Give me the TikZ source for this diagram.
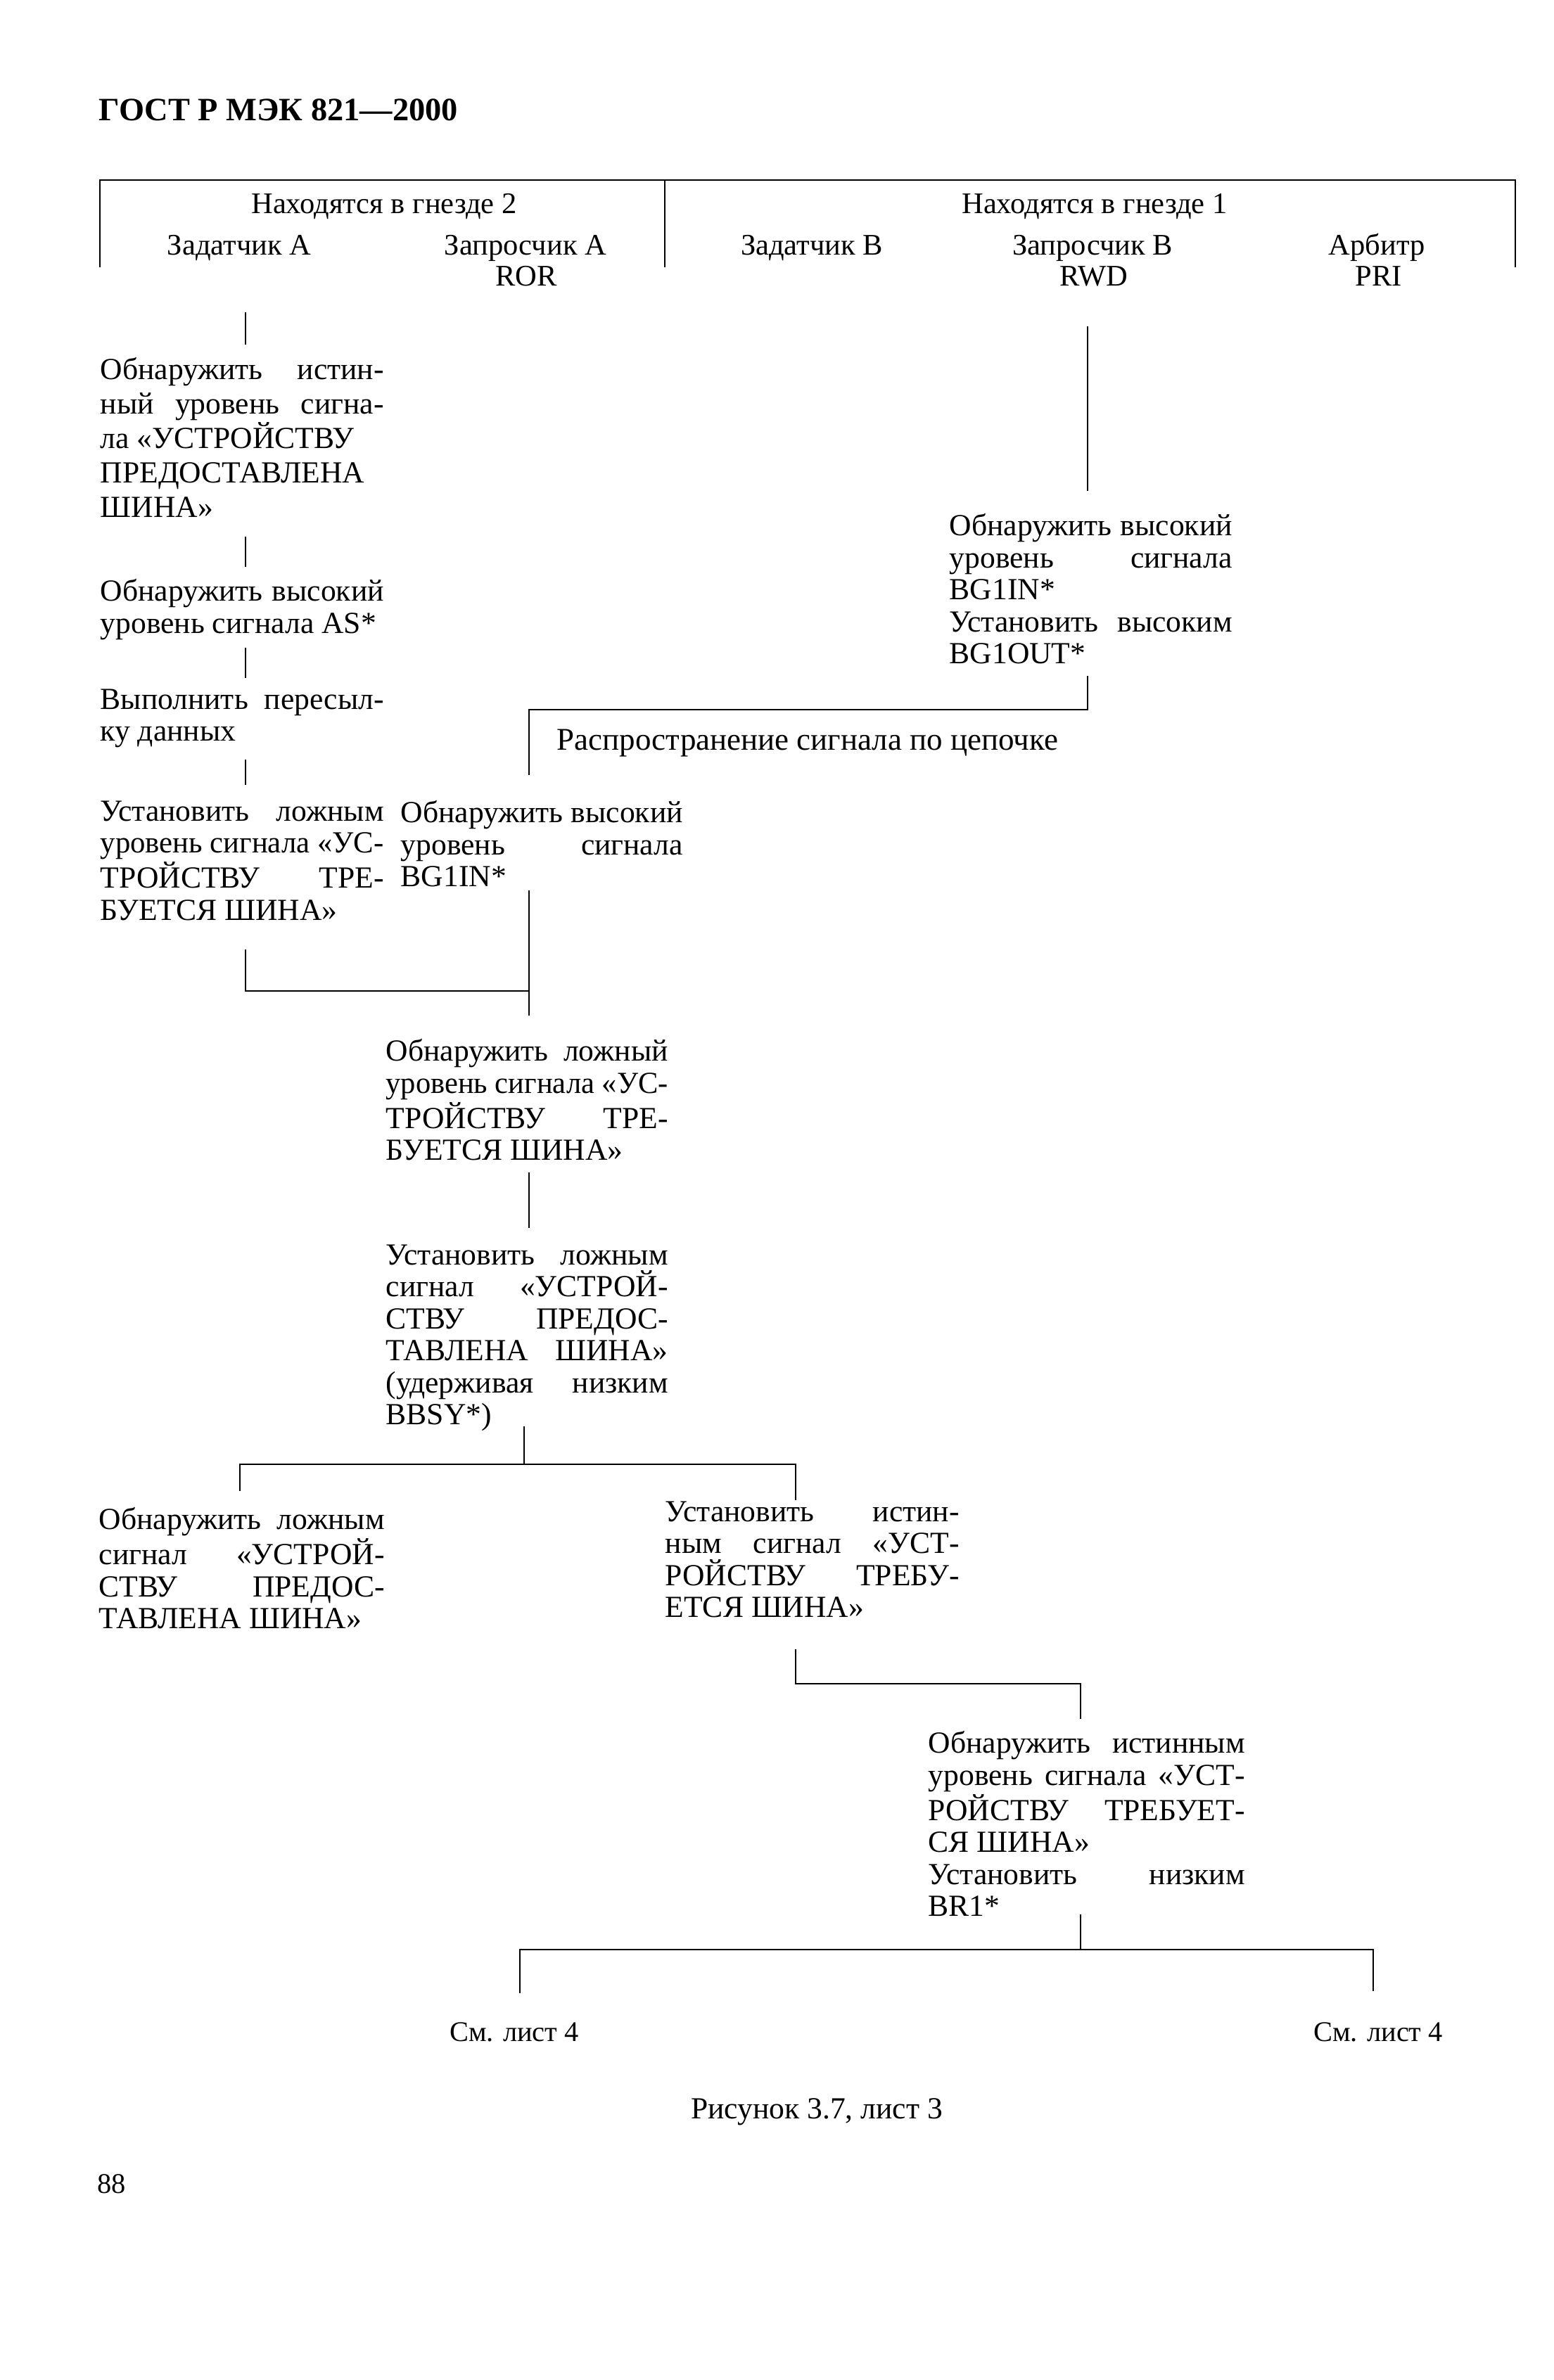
\documentclass[tikz,border=0pt]{standalone}
\usepackage{fontspec}
\usepackage{graphicx}
\setmainfont{Liberation Serif}
\hyphenpenalty=10000
\newcommand{\bodyfont}{\fontsize{12.4}{12.95}\selectfont}
\newcommand{\headfont}{\fontsize{12.1}{12.5}\selectfont}
\newcommand{\notefont}{\fontsize{11.5}{12}\selectfont}
\newcommand{\titlefont}{\fontsize{13.2}{14}\selectfont\bfseries}
% squeeze a line that is wider than the block
\newcommand{\fitline}[1]{\setbox0=\hbox{#1}\ifdim\wd0>\hsize\resizebox{\hsize}{\height}{#1}\else#1\fi}
\tikzset{
  link/.style={line width=0.8pt},
  hdr/.style={anchor=base, inner sep=0pt, font=\headfont},
  block/.style={anchor=north west, inner sep=0pt, align=justify, font=\bodyfont},
  note/.style={anchor=base, inner sep=0pt, font=\notefont},
}

\begin{document}
\begin{tikzpicture}
  \useasboundingbox (0,0) rectangle (22.09,-33.84);
  \node[anchor=base west, inner sep=0pt, font=\titlefont] (gost) at (1.40,-1.72) {ГОСТ Р МЭК 821—2000};

  % header frame
  \coordinate (hL) at (1.42,-3.80); \coordinate (hR) at (21.54,-3.80);
  \coordinate (hM) at (9.45,-2.56); \coordinate (hMb) at (9.45,-3.80);
  \draw[link] (hL) |- (hM) -| (hR);
  \draw[link] (hM) -- (hMb);
  \node[hdr] (slot2) at (5.46,-3.04) {Находятся в гнезде 2};
  \node[hdr] (slot1) at (15.56,-3.04) {Находятся в гнезде 1};
  \node[hdr] (mastA) at (3.40,-3.63) {Задатчик А};
  \node[hdr] (reqA) at (7.47,-3.63) {Запросчик А};
  \node[hdr] (ror) at (7.48,-4.07) {ROR};
  \node[hdr] (mastB) at (11.54,-3.63) {Задатчик В};
  \node[hdr] (reqB) at (15.53,-3.63) {Запросчик В};
  \node[hdr] (rwd) at (15.55,-4.07) {RWD};
  \node[hdr] (arb) at (19.57,-3.63) {Арбитр};
  \node[hdr] (pri) at (19.60,-4.07) {PRI};

  % master A column
  \node[block, text width=4.03cm, font=\fontsize{12.4}{13.9}\selectfont] (grantT) at (1.42,-5.08)
    {Обнаружить истин-\linebreak ный уровень сигна-\linebreak ла «УСТРОЙСТВУ\\ ПРЕДОСТАВЛЕНА\\ ШИНА»};
  \node[block, text width=4.03cm] (asHigh) at (1.42,-8.23)
    {\fitline{Обнаружить высокий}\linebreak уровень сигнала AS*};
  \node[block, text width=4.03cm] (xfer) at (1.42,-9.79)
    {Выполнить пересыл-\linebreak ку данных};
  \node[block, text width=4.03cm] (reqF) at (1.42,-11.38)
    {Установить ложным\linebreak \fitline{уровень сигнала «УС-}\linebreak ТРОЙСТВУ ТРЕ-\linebreak БУЕТСЯ ШИНА»};

  % requester B column
  \node[block, text width=4.02cm] (bgOut) at (13.49,-7.30)
    {\fitline{Обнаружить высокий}\linebreak уровень сигнала\linebreak BG1IN*\\ Установить высоким\linebreak BG1OUT*};
  \node[anchor=west, inner sep=0pt, font=\fontsize{12.8}{13}\selectfont] (chain) at (7.91,-10.57)
    {Распространение сигнала по цепочке};

  % requester A column
  \node[block, text width=4.01cm] (bgIn) at (5.69,-11.38)
    {\fitline{Обнаружить высокий}\linebreak уровень сигнала\linebreak BG1IN*};
  \node[block, text width=4.01cm] (reqDet) at (5.48,-14.77)
    {Обнаружить ложный\linebreak \fitline{уровень сигнала «УС-}\linebreak ТРОЙСТВУ ТРЕ-\linebreak БУЕТСЯ ШИНА»};
  \node[block, text width=4.01cm] (grantF) at (5.48,-17.69)
    {Установить ложным\linebreak сигнал «УСТРОЙ-\linebreak СТВУ ПРЕДОС-\linebreak ТАВЛЕНА ШИНА»\linebreak (удерживая низким\linebreak BBSY*)};
  \node[block, text width=4.06cm] (grantDet) at (1.40,-21.43)
    {Обнаружить ложным\linebreak сигнал «УСТРОЙ-\linebreak СТВУ ПРЕДОС-\linebreak ТАВЛЕНА ШИНА»};
  \node[block, text width=4.18cm] (reqT) at (9.45,-21.34)
    {Установить истин-\linebreak ным сигнал «УСТ-\linebreak РОЙСТВУ ТРЕБУ-\linebreak ЕТСЯ ШИНА»};
  \node[block, text width=4.50cm] (br1) at (13.19,-24.61)
    {Обнаружить истинным\linebreak \fitline{уровень сигнала «УСТ-}\linebreak РОЙСТВУ ТРЕБУЕТ-\linebreak СЯ ШИНА»\\ Установить низким\linebreak BR1*};

  \node[note] (see1) at (7.31,-29.02) {См. лист 4};
  \node[note] (see2) at (19.59,-29.02) {См. лист 4};
  \node[anchor=base, inner sep=0pt, font=\fontsize{12.4}{13}\selectfont] (fig) at (11.61,-30.12) {Рисунок 3.7, лист 3};
  \node[anchor=base west, inner sep=0pt, font=\fontsize{11.5}{13}\selectfont] (page) at (1.38,-31.18) {88};

  % connectors
  \coordinate (sa1) at (3.49,-4.44); \coordinate (sa1e) at (3.49,-4.90);
  \coordinate (sa2) at (3.49,-7.63); \coordinate (sa2e) at (3.49,-8.06);
  \coordinate (sa3) at (3.49,-9.21); \coordinate (sa3e) at (3.49,-9.64);
  \coordinate (sa4) at (3.49,-10.80); \coordinate (sa4e) at (3.49,-11.16);
  \draw[link] (sa1) -- (sa1e);
  \draw[link] (sa2) -- (sa2e);
  \draw[link] (sa3) -- (sa3e);
  \draw[link] (sa4) -- (sa4e);

  \coordinate (rb1) at (15.46,-4.64); \coordinate (rb1e) at (15.46,-6.98);
  \coordinate (rb2) at (15.46,-9.61); \coordinate (chR) at (15.46,-10.09);
  \coordinate (chE) at (7.52,-11.02);
  \draw[link] (rb1) -- (rb1e);
  \draw[link] (rb2) -- (chR) -| (chE);

  \coordinate (bg) at (7.52,-12.66); \coordinate (bgE) at (7.52,-14.44);
  \coordinate (ja) at (3.49,-13.50); \coordinate (jb) at (7.52,-14.09);
  \draw[link] (bg) -- (bgE);
  \draw[link] (ja) |- (jb);

  \coordinate (c1) at (7.52,-16.67); \coordinate (c1e) at (7.52,-17.46);
  \draw[link] (c1) -- (c1e);

  \coordinate (c2) at (7.45,-20.28); \coordinate (fk) at (7.45,-20.82);
  \coordinate (fL) at (3.41,-21.20); \coordinate (fR) at (11.31,-21.33);
  \draw[link] (c2) -- (fk);
  \draw[link] (fL) |- (fk) -| (fR);

  \coordinate (d2) at (11.31,-23.45); \coordinate (e1s) at (15.36,-24.44);
  \draw[link] (d2) |- (e1s |- 0,-23.94) -- (e1s);

  \coordinate (e1) at (15.36,-27.22); \coordinate (ek) at (15.36,-27.72);
  \coordinate (kL) at (7.39,-28.34); \coordinate (kR) at (19.52,-28.31);
  \draw[link] (e1) -- (ek);
  \draw[link] (kL) |- (ek) -| (kR);
\end{tikzpicture}
\end{document}
